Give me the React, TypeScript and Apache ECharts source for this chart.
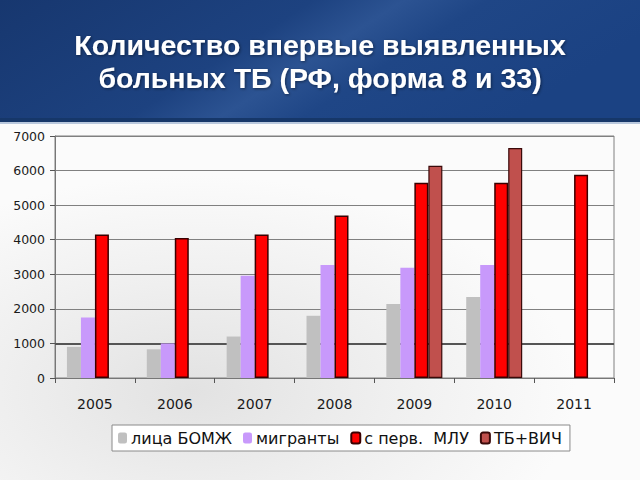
import React, { useEffect, useRef } from "react";
import * as echarts from "echarts";

const years = ["2005", "2006", "2007", "2008", "2009", "2010", "2011"];
const homeless = [900, 830, 1200, 1800, 2140, 2340, null];
const migrants = [1750, 1000, 2960, 3270, 3190, 3270, null];
const mdr = [4150, 4050, 4150, 4700, 5650, 5650, 5880];
const tbHiv = [null, null, null, null, 6140, 6650, null];
const seriesNames = ["лица БОМЖ", "мигранты", "с перв.  МЛУ", "ТБ+ВИЧ"];
const titleText = "Количество впервые выявленных\nбольных ТБ (РФ, форма 8 и 33)";

export default function App() {
  const ref = useRef<HTMLDivElement>(null);
  useEffect(() => {
    if (!ref.current) return;
    const chart = echarts.init(ref.current, undefined, { renderer: "svg" });
    const font = "DejaVu Sans";
    chart.setOption({
      animation: false,
      backgroundColor: "#ffffff",
      graphic: [
        {
          type: "rect",
          z: -10,
          silent: true,
          shape: { x: 0, y: 122, width: 640, height: 358 },
          style: {
            fill: new echarts.graphic.RadialGradient(0.3, 0.75, 0.6, [
              { offset: 0, color: "#e2e2e2" },
              { offset: 0.5, color: "#efefef" },
              { offset: 1, color: "#fbfbfb" },
            ]),
          },
        },
        {
          type: "rect",
          z: -9,
          silent: true,
          shape: { x: 0, y: 0, width: 640, height: 122 },
          style: {
            fill: new echarts.graphic.LinearGradient(0, 0, 1, 0.3, [
              { offset: 0, color: "#17376f" },
              { offset: 0.45, color: "#1d4280" },
              { offset: 0.58, color: "#2c5392" },
              { offset: 0.7, color: "#1f4686" },
              { offset: 1, color: "#1b4283" },
            ]),
          },
        },
        {
          type: "rect",
          z: -8,
          silent: true,
          shape: { x: 0, y: 118, width: 640, height: 4 },
          style: { fill: "#163769" },
        },
        {
          type: "rect",
          z: -8,
          silent: true,
          shape: { x: 0, y: 122, width: 640, height: 2 },
          style: { fill: "#b9c8dd" },
        },
      ],
      title: {
        text: titleText,
        left: "center",
        top: 23,
        textStyle: {
          color: "#ffffff",
          fontFamily: "Liberation Sans",
          fontWeight: "bold",
          fontSize: 28.5,
          lineHeight: 33,
          textShadowColor: "rgba(0,0,0,0.45)",
          textShadowBlur: 3,
          textShadowOffsetX: 1,
          textShadowOffsetY: 1,
        },
      },
      legend: {
        data: seriesNames,
        left: 112,
        top: 425,
        padding: [5, 8, 5, 6],
        itemWidth: 9,
        itemHeight: 11,
        itemGap: 11,
        backgroundColor: "#ffffff",
        borderColor: "#8a8a8a",
        borderWidth: 1,
        borderRadius: 0,
        textStyle: { fontFamily: font, fontSize: 16, color: "#111111", padding: [0, 0, 0, -1] },
      },
      grid: {
        left: 55,
        right: 26,
        top: 136,
        bottom: 102,
        show: true,
        borderColor: "#808080",
        borderWidth: 1,
        backgroundColor: "transparent",
      },
      xAxis: {
        type: "category",
        data: years,
        axisLine: { lineStyle: { color: "#777777", width: 1 } },
        axisTick: { show: true, alignWithLabel: false, length: 5, lineStyle: { color: "#555555" } },
        axisLabel: { fontFamily: font, fontSize: 14, color: "#1a1a1a", margin: 19 },
      },
      yAxis: {
        type: "value",
        min: 0,
        max: 7000,
        interval: 1000,
        axisLine: { show: true, lineStyle: { color: "#777777" } },
        axisTick: { show: true, length: 5, lineStyle: { color: "#555555" } },
        axisLabel: {
          fontFamily: font,
          fontSize: 12.5,
          color: "#1a1a1a",
          margin: 10,
          formatter: (v: number) => String(v),
        },
        splitLine: { lineStyle: { color: "#808080", width: 1 } },
      },
      series: [
        {
          name: seriesNames[0],
          type: "bar",
          data: homeless,
          barWidth: 14,
          barGap: "0%",
          itemStyle: { color: "#c0c0c0" },
          markLine: {
            silent: true,
            z: 1,
            symbol: "none",
            label: { show: false },
            lineStyle: { color: "#555555", width: 2, type: "solid" },
            data: [{ yAxis: 1000 }],
          },
        },
        {
          name: seriesNames[1],
          type: "bar",
          data: migrants,
          barWidth: 14,
          barGap: "0%",
          itemStyle: { color: "#c899fb" },
        },
        {
          name: seriesNames[2],
          type: "bar",
          data: mdr,
          barWidth: 14,
          barGap: "0%",
          itemStyle: { color: "#ff0000", borderColor: "#3a0000", borderWidth: 1.5 },
        },
        {
          name: seriesNames[3],
          type: "bar",
          data: tbHiv,
          barWidth: 14,
          barGap: "0%",
          itemStyle: { color: "#c0504d", borderColor: "#3a0a0a", borderWidth: 1.2 },
        },
      ],
    });
    return () => chart.dispose();
  }, []);
  return (
    <div
      ref={ref}
      style={{ position: "fixed", left: 0, top: 0, width: 640, height: 480 }}
    />
  );
}
